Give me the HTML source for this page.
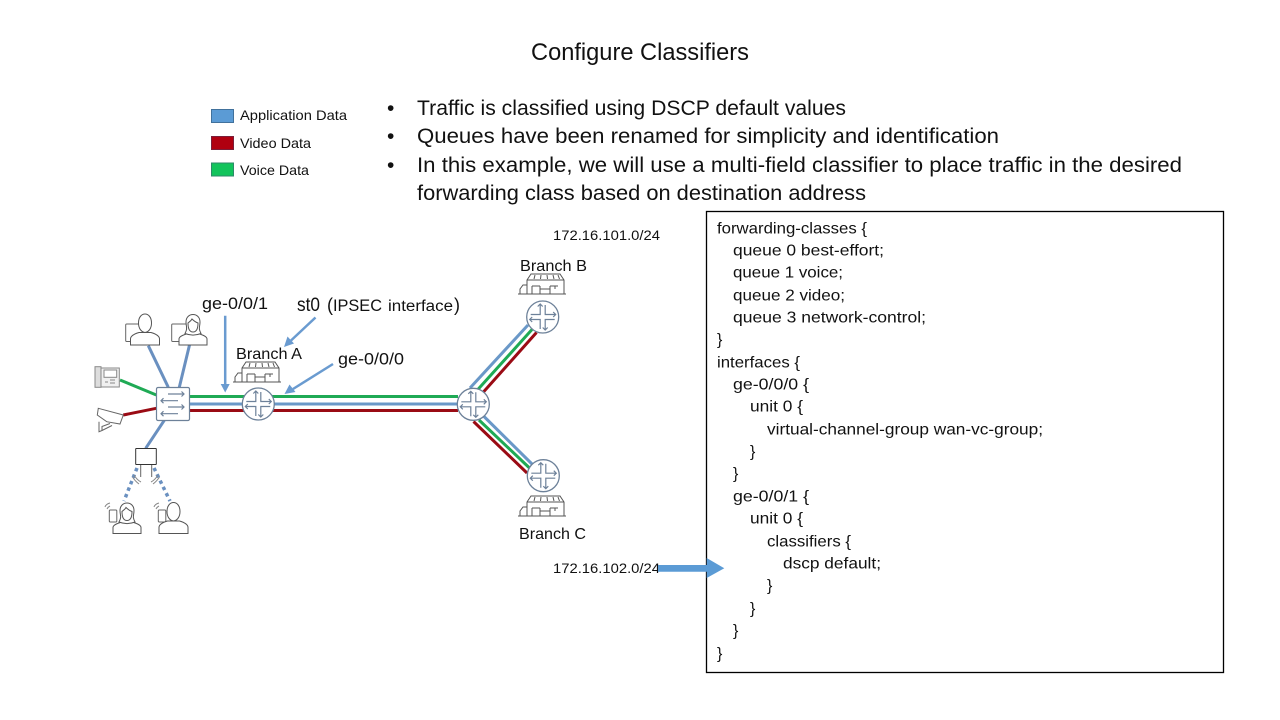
<!DOCTYPE html>
<html><head><meta charset="utf-8"><style>
html,body{margin:0;padding:0;background:#fff}
svg{display:block}
text{font-family:"Liberation Sans",sans-serif;fill:#111}
</style></head><body>
<svg xmlns="http://www.w3.org/2000/svg" width="1280" height="720" viewBox="0 0 1280 720">
<defs>
<g id="router">
<circle r="16" fill="#fff" stroke="#6d8199" stroke-width="1.300"/>
<g fill="none" stroke="#6d8199" stroke-width="1.200">
<path d="M-12 -2.500H-2.500V-13M-5 -10.500L-2.500 -13L0 -10.500"/>
<path d="M2.500 -12V-2.500H13M10.500 -5L13 -2.500L10.500 0"/>
<path d="M-13 2.500H-2.500V12M-10.500 0L-13 2.500L-10.500 5"/>
<path d="M12 2.500H2.500V13M0 10.500L2.500 13L5 10.500"/>
</g>
</g>
<g id="store" fill="none" stroke="#555" stroke-width="1">
<path d="M-23 11H25"/>
<path d="M-14 11V-3L-10 -9H19L23 -3V11"/>
<path d="M-14 -3H23"/>
<path d="M-9 3H-1M-9 3V11M-1 3V6H9V3M9 6V11M-1 6V11M9 3H17M14 3V6"/>
<path d="M-6 -8L-7 -4M0 -8L-.5 -4M6 -8L6.500 -4M12 -8L13 -4M17 -8L18.500 -4"/>
<path d="M-21 11V6L-18 2H-14"/>
</g>
<g id="male" fill="#fff" stroke="#555" stroke-width="1">
<path d="M-14.500 14V8Q-14.500 4 -6 1.500H6Q14.500 4 14.500 8V14Z"/>
<path d="M-6.500 -8C-6.500 -20 6.500 -20 6.500 -8C6.500 -3 4 1 0 1.500C-4 1 -6.500 -3 -6.500 -8Z"/>
</g>
<g id="female" fill="#fff" stroke="#555" stroke-width="1">
<path d="M-14 14V8Q-14 5 -5 2.500H5Q14 5 14 8V14Z"/>
<path d="M-8 2.500C-5 -3 -7 -4 -7 -9C-7 -19 7 -19 7 -9C7 -4 5 -3 8 2.500C3 4.500 -3 4.500 -8 2.500Z"/>
<path d="M-5 -8C-5 -2 -3 1 0 1C3 1 5 -2 5 -8C2 -9 0 -11 -1 -12C-2 -10 -4 -9 -5 -8Z"/>
</g>
</defs>

<text x="531" y="60" font-size="24" textLength="218" lengthAdjust="spacingAndGlyphs">Configure Classifiers</text>

<!-- legend -->
<rect x="211.500" y="109.500" width="22" height="13" fill="#5b9bd5" stroke="#41719c"/>
<rect x="211.500" y="136.500" width="22" height="13" fill="#b00010" stroke="#7a1f3a"/>
<rect x="211.500" y="163" width="22" height="13" fill="#12c45c" stroke="#2d8a68"/>
<text x="240" y="120" font-size="14" textLength="107" lengthAdjust="spacingAndGlyphs">Application Data</text>
<text x="240" y="148" font-size="14" textLength="71" lengthAdjust="spacingAndGlyphs">Video Data</text>
<text x="240" y="175" font-size="14" textLength="69" lengthAdjust="spacingAndGlyphs">Voice Data</text>

<!-- bullets -->
<g font-size="21">
<text x="387" y="115">•</text><text x="387" y="143">•</text><text x="387" y="172">•</text>
<text x="417" y="115" textLength="429" lengthAdjust="spacingAndGlyphs">Traffic is classified using DSCP default values</text>
<text x="417" y="143" textLength="582" lengthAdjust="spacingAndGlyphs">Queues have been renamed for simplicity and identification</text>
<text x="417" y="172" textLength="765" lengthAdjust="spacingAndGlyphs">In this example, we will use a multi-field classifier to place traffic in the desired</text>
<text x="417" y="200" textLength="449" lengthAdjust="spacingAndGlyphs">forwarding class based on destination address</text>
</g>

<!-- code box -->
<rect x="706.500" y="211.500" width="517" height="461" fill="#fff" stroke="#000" stroke-width="1.300"/>
<g font-size="16">
<text x="717" y="233.500" textLength="150" lengthAdjust="spacingAndGlyphs">forwarding-classes {</text>
<text x="733" y="255.500" textLength="151" lengthAdjust="spacingAndGlyphs">queue 0 best-effort;</text>
<text x="733" y="277.500" textLength="110" lengthAdjust="spacingAndGlyphs">queue 1 voice;</text>
<text x="733" y="300.500" textLength="112" lengthAdjust="spacingAndGlyphs">queue 2 video;</text>
<text x="733" y="322.500" textLength="193" lengthAdjust="spacingAndGlyphs">queue 3 network-control;</text>
<text x="717" y="344.500">}</text>
<text x="717" y="367.500" textLength="83" lengthAdjust="spacingAndGlyphs">interfaces {</text>
<text x="733" y="389.500" textLength="76" lengthAdjust="spacingAndGlyphs">ge-0/0/0 {</text>
<text x="750" y="411.500" textLength="53" lengthAdjust="spacingAndGlyphs">unit 0 {</text>
<text x="767" y="434.500" textLength="276" lengthAdjust="spacingAndGlyphs">virtual-channel-group wan-vc-group;</text>
<text x="750" y="456.500">}</text>
<text x="733" y="478.500">}</text>
<text x="733" y="501.500" textLength="76" lengthAdjust="spacingAndGlyphs">ge-0/0/1 {</text>
<text x="750" y="523.500" textLength="53" lengthAdjust="spacingAndGlyphs">unit 0 {</text>
<text x="767" y="546.500" textLength="84" lengthAdjust="spacingAndGlyphs">classifiers {</text>
<text x="783" y="568.500" textLength="98" lengthAdjust="spacingAndGlyphs">dscp default;</text>
<text x="767" y="590.500">}</text>
<text x="750" y="613.500">}</text>
<text x="733" y="635.500">}</text>
<text x="717" y="658.500">}</text>
</g>

<!-- trunk lines -->
<g fill="none" stroke-width="3">
<path d="M189 396.500H458" stroke="#1faa55"/>
<path d="M189 404H458" stroke="#6a98c8"/>
<path d="M189 410.500H458" stroke="#9a0b14"/>
<path d="M470 388L528 325" stroke="#6a98c8"/>
<path d="M476.500 391L532 329.500" stroke="#1faa55"/>
<path d="M483 392.500L536.500 332.500" stroke="#9a0b14"/>
<path d="M484 416.500L533 465" stroke="#6a98c8"/>
<path d="M479 420L529.500 468" stroke="#1faa55"/>
<path d="M473.500 421.500L527 473" stroke="#9a0b14"/>
<path d="M148.300 345.700L168.300 387.300M189.500 345L179.300 387.300M164.300 420.300L145.700 448.300" stroke="#6a90c0"/>
<path d="M120 380L156.300 395" stroke="#1faa55"/>
<path d="M123.300 415L156.300 408.300" stroke="#9a0b14"/>
<path d="M137 468L124 501M154 468L170 501" stroke="#6a90c0" stroke-width="3.500" stroke-dasharray="3.500 3.500"/>
</g>

<!-- routers -->
<use href="#router" x="258.300" y="404"/>
<use href="#router" x="473.300" y="404.300"/>
<use href="#router" x="542.700" y="317"/>
<use href="#router" x="543.300" y="475.700"/>

<!-- stores -->
<use href="#store" x="256" y="371"/>
<use href="#store" x="541" y="283"/>
<use href="#store" x="541" y="505"/>

<!-- switch -->
<rect x="156.500" y="387.500" width="33" height="33" rx="1.500" fill="#fff" stroke="#6d8199" stroke-width="1.200"/>
<g fill="none" stroke="#6d8199" stroke-width="1.200">
<path d="M168 394H184M181.500 391.500L184 394L181.500 396.500"/>
<path d="M178 400.700H161M163.500 398.200L161 400.700L163.500 403.200"/>
<path d="M168 407H184M181.500 404.500L184 407L181.500 409.500"/>
<path d="M178 413.700H161M163.500 411.200L161 413.700L163.500 416.200"/>
</g>

<!-- endpoint icons -->
<g fill="#fff" stroke="#666" stroke-width="1">
<rect x="125.700" y="324" width="17.500" height="17.500" rx="1"/>
<use href="#male" x="145" y="331"/>
<rect x="171.700" y="324" width="15" height="17.500" rx="1"/>
<use href="#female" x="193" y="331"/>
<!-- phone -->
<rect x="95" y="366.700" width="6" height="20.600" fill="#ddd" stroke="#888"/>
<rect x="101" y="368" width="18.300" height="19" fill="#f0f0f0" stroke="#888"/>
<rect x="104" y="370" width="12.700" height="7.300" fill="#fff" stroke="#888"/>
<path d="M105 382H108M110 380H115M110 383H115" fill="none" stroke="#888"/>
<!-- camera -->
<path d="M98.300 408.300L123.300 415L120 424L106.700 421.700L97.300 415Z" fill="#fff"/>
<path d="M99 421.700V431.700L102 430.500V426.500L110 423.500" fill="none"/>
<path d="M102 430.500L112 425.500" fill="none"/>
<!-- AP -->
<rect x="135.700" y="448.500" width="20.600" height="16" rx=".5" fill="#fff" stroke="#333"/>
<path d="M140.700 465V477M151.700 465V477" fill="none"/>
<path d="M134 475Q137 480 141 482M132.500 477Q135 481 139 484M158 475Q155 480 151 482M159.500 477Q157 481 153 484" fill="none" stroke="#888"/>
<!-- wireless users -->
<rect x="109.300" y="510" width="7.500" height="12" rx="1"/>
<rect x="158.300" y="510" width="7.500" height="12" rx="1"/>
<use href="#female" x="127" y="519.500"/>
<use href="#male" x="173.500" y="519.500"/>
<path d="M105 507Q106 504 110 503M107 509Q108 507 110 506M154 507Q155 504 159 503M156 509Q157 507 159 506" fill="none" stroke="#888"/>
</g>

<!-- labels -->
<text x="202" y="309" font-size="16.500" textLength="66" lengthAdjust="spacingAndGlyphs">ge-0/0/1</text>
<text x="297" y="311" font-size="19" textLength="23" lengthAdjust="spacingAndGlyphs">st0</text>
<text x="327" y="311" font-size="18">(</text>
<text x="333" y="311" font-size="17" textLength="49" lengthAdjust="spacingAndGlyphs">IPSEC</text>
<text x="388" y="311" font-size="15.500" textLength="65" lengthAdjust="spacingAndGlyphs">interface</text>
<text x="454" y="311" font-size="18">)</text>
<text x="236" y="359" font-size="16" textLength="66" lengthAdjust="spacingAndGlyphs">Branch A</text>
<text x="338" y="364.500" font-size="16.500" textLength="66" lengthAdjust="spacingAndGlyphs">ge-0/0/0</text>
<text x="520" y="271" font-size="16" textLength="67" lengthAdjust="spacingAndGlyphs">Branch B</text>
<text x="519" y="539" font-size="16" textLength="67" lengthAdjust="spacingAndGlyphs">Branch C</text>
<text x="553" y="240" font-size="14" textLength="107" lengthAdjust="spacingAndGlyphs">172.16.101.0/24</text>
<text x="553" y="573" font-size="14" textLength="107" lengthAdjust="spacingAndGlyphs">172.16.102.0/24</text>

<!-- annotation arrows -->
<g fill="none" stroke="#6a9bd0" stroke-width="2.500">
<path d="M225.200 315.700V385"/>
<path d="M315.500 317.500L291 340.500"/>
<path d="M333 364L293 389"/>
</g>
<g fill="#6a9bd0">
<path d="M220.700 384H229.700L225.200 392.500Z"/>
<path d="M287.500 336.500L294 343.500L284 347Z"/>
<path d="M289.500 384.500L295.500 392L284.500 394Z"/>
<path d="M658 565H706.700V558L724.300 568.300L706.700 578V571.700H658Z" fill="#5b9bd5"/>
</g>
</svg>
</body></html>
